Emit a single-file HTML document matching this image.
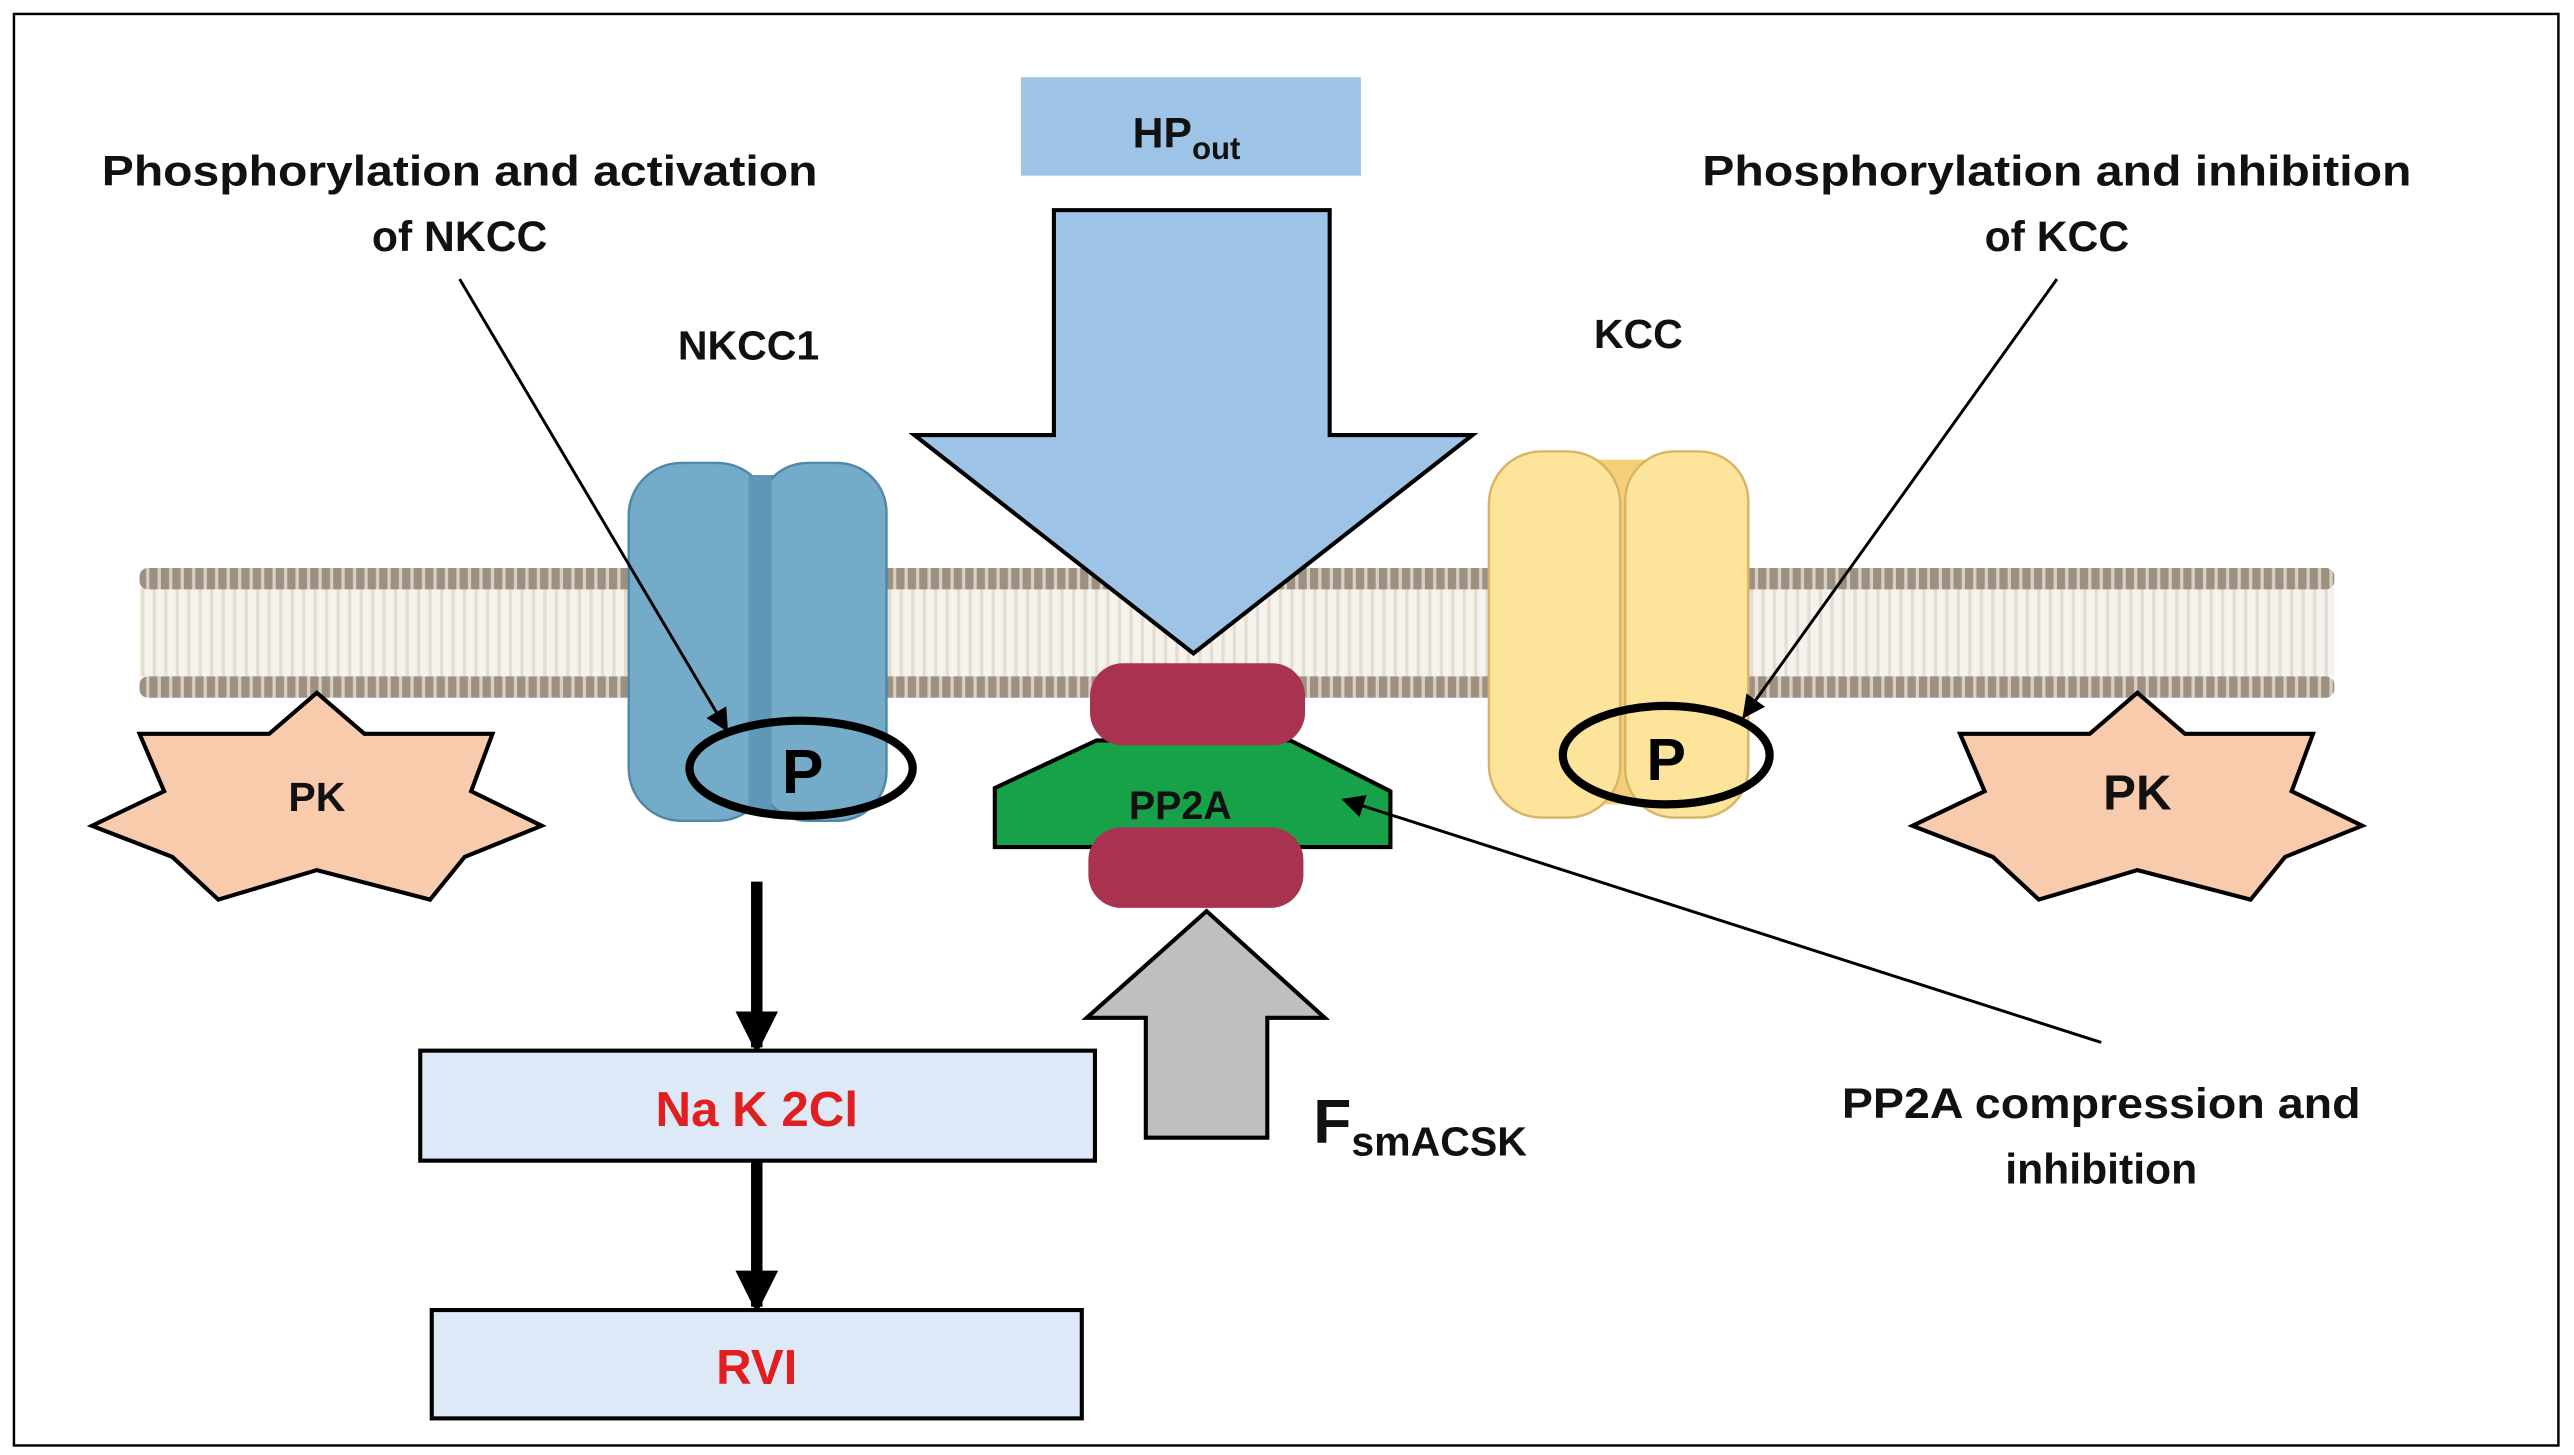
<!DOCTYPE html>
<html><head><meta charset="utf-8"><style>
html,body{margin:0;padding:0;background:#fff;}
svg{display:block;}
text{font-family:"Liberation Sans",sans-serif;font-weight:bold;}
</style></head><body>
<svg width="2574" height="1455" viewBox="0 0 1568 886.3" preserveAspectRatio="none" xmlns="http://www.w3.org/2000/svg">
<defs>
<pattern id="lip" width="7" height="14" patternUnits="userSpaceOnUse">
<rect x="0" y="0" width="7" height="14" fill="#9d9080"/><rect x="5" y="0" width="2" height="14" fill="#d8d0c4"/>
</pattern>
<pattern id="tail" width="7" height="20" patternUnits="userSpaceOnUse">
<rect width="7" height="20" fill="#f6f3ee"/><rect x="2" width="2" height="20" fill="#e4ddd2"/>
</pattern>
<marker id="ah" markerWidth="10" markerHeight="10" refX="9" refY="5" orient="auto" markerUnits="userSpaceOnUse">
<path d="M0,0 L10,5 L0,10 z" fill="#000"/></marker>
<marker id="ah2" markerWidth="14" markerHeight="14" refX="13" refY="7" orient="auto" markerUnits="userSpaceOnUse">
<path d="M0,0 L14,7 L0,14 z" fill="#000"/></marker>
<marker id="ah3" markerWidth="26" markerHeight="26" refX="22" refY="13" orient="auto" markerUnits="userSpaceOnUse">
<path d="M0,0 L26,13 L0,26 z" fill="#000"/></marker>
</defs>
<rect x="0" y="0" width="1568" height="886.3" fill="#fff"/>
<rect x="8.5" y="8.5" width="1550" height="872" fill="none" stroke="#000" stroke-width="1.5"/>

<!-- membrane -->
<rect x="85" y="358" width="1337" height="54" fill="url(#tail)"/>
<rect x="85" y="346" width="1337" height="13" fill="url(#lip)" rx="5"/>
<rect x="85" y="412" width="1337" height="13" fill="url(#lip)" rx="5"/>

<!-- HPout -->
<rect x="622" y="47" width="207" height="60" fill="#9dc3e6"/>
<text x="690" y="90" font-size="26" fill="#111">HP<tspan font-size="19" dy="7">out</tspan></text>
<!-- big arrow -->
<path d="M642,128 L810,128 L810,265 L897,265 L727,398 L557,265 L642,265 Z" fill="#9dc3e6" stroke="#000" stroke-width="2.5"/>

<!-- NKCC1 -->
<rect x="452" y="290" width="28" height="205" fill="#5b93b3" stroke="#3f7594"/>
<rect x="383" y="282" width="86" height="218" rx="32" fill="#74abc9" stroke="#4f88a8" stroke-width="1.5"/>
<rect x="462" y="282" width="78" height="218" rx="30" fill="#74abc9" stroke="#4f88a8" stroke-width="1.5"/>
<rect x="456" y="290" width="14" height="205" fill="#5f97b8"/>
<text x="456" y="219" font-size="25" text-anchor="middle" fill="#111">NKCC1</text>
<ellipse cx="488" cy="468" rx="68" ry="29" fill="none" stroke="#000" stroke-width="5"/>
<text x="489" y="483" font-size="38" text-anchor="middle" fill="#000">P</text>

<!-- KCC -->
<rect x="970" y="280" width="32" height="210" fill="#f4cf7a"/>
<rect x="907" y="275" width="80" height="223" rx="32" fill="#fde49b" stroke="#d9b465" stroke-width="1.5"/>
<rect x="990" y="275" width="75" height="223" rx="30" fill="#fde49b" stroke="#d9b465" stroke-width="1.5"/>
<text x="998" y="212" font-size="25" text-anchor="middle" fill="#111">KCC</text>
<ellipse cx="1015" cy="460" rx="63" ry="30" fill="none" stroke="#000" stroke-width="5"/>
<text x="1015" y="475" font-size="36" text-anchor="middle" fill="#000">P</text>

<!-- PK stars -->
<g id="pk">
<path d="M193,422 L222,447 L300,447 L287,482 L330,503 L283,522 L262,548 L193,530 L133,548 L105,522 L56,503 L100,482 L85,447 L164,447 Z" fill="#f8cbad" stroke="#000" stroke-width="2.5"/>
</g>
<text x="193" y="494" font-size="25" text-anchor="middle" fill="#111">PK</text>
<path d="M1302,422 L1331,447 L1409,447 L1396,482 L1439,503 L1392,522 L1371,548 L1302,530 L1242,548 L1214,522 L1165,503 L1209,482 L1194,447 L1273,447 Z" fill="#f8cbad" stroke="#000" stroke-width="2.5"/>
<text x="1302" y="493" font-size="30" text-anchor="middle" fill="#111">PK</text>

<!-- PP2A -->
<path d="M606,516 L606,480 L668,451 L786,451 L847,482 L847,516 Z" fill="#17a24a" stroke="#000" stroke-width="2.5"/>
<rect x="664" y="404" width="131" height="50" rx="20" fill="#a8324f"/>
<rect x="663" y="504" width="131" height="49" rx="20" fill="#a8324f"/>
<text x="719" y="499" font-size="24" text-anchor="middle" fill="#111">PP2A</text>

<!-- gray arrow -->
<path d="M735,555 L807,620 L772,620 L772,693 L698,693 L698,620 L662,620 Z" fill="#bfbfbf" stroke="#000" stroke-width="2.5"/>
<text x="800" y="696" font-size="38" fill="#111">F<tspan font-size="25" dy="8">smACSK</tspan></text>

<!-- callout lines -->
<line x1="280" y1="170" x2="443" y2="445" stroke="#000" stroke-width="1.8" marker-end="url(#ah2)"/>
<line x1="1253" y1="170" x2="1062" y2="437" stroke="#000" stroke-width="1.8" marker-end="url(#ah2)"/>
<line x1="1280" y1="635" x2="818" y2="487" stroke="#000" stroke-width="1.8" marker-end="url(#ah2)"/>

<!-- labels -->
<text x="280" y="113" font-size="26" text-anchor="middle" fill="#111" textLength="436" lengthAdjust="spacingAndGlyphs">Phosphorylation and activation</text>
<text x="280" y="153" font-size="26" text-anchor="middle" fill="#111">of NKCC</text>
<text x="1253" y="113" font-size="26" text-anchor="middle" fill="#111" textLength="432" lengthAdjust="spacingAndGlyphs">Phosphorylation and inhibition</text>
<text x="1253" y="153" font-size="26" text-anchor="middle" fill="#111">of KCC</text>
<text x="1280" y="681" font-size="26" text-anchor="middle" fill="#111" textLength="316" lengthAdjust="spacingAndGlyphs">PP2A compression and</text>
<text x="1280" y="721" font-size="26" text-anchor="middle" fill="#111">inhibition</text>

<!-- bottom flow -->
<line x1="461" y1="537" x2="461" y2="638" stroke="#000" stroke-width="7" marker-end="url(#ah3)"/>
<rect x="256" y="640" width="411" height="67" fill="#dde9f6" stroke="#000" stroke-width="2.5"/>
<text x="461" y="686" font-size="30" text-anchor="middle" fill="#e02020" font-weight="normal">Na K 2Cl</text>
<line x1="461" y1="707" x2="461" y2="796" stroke="#000" stroke-width="7" marker-end="url(#ah3)"/>
<rect x="263" y="798" width="396" height="66" fill="#dde9f6" stroke="#000" stroke-width="2.5"/>
<text x="461" y="843" font-size="30" text-anchor="middle" fill="#e02020" font-weight="normal">RVI</text>
</svg>
</body></html>
